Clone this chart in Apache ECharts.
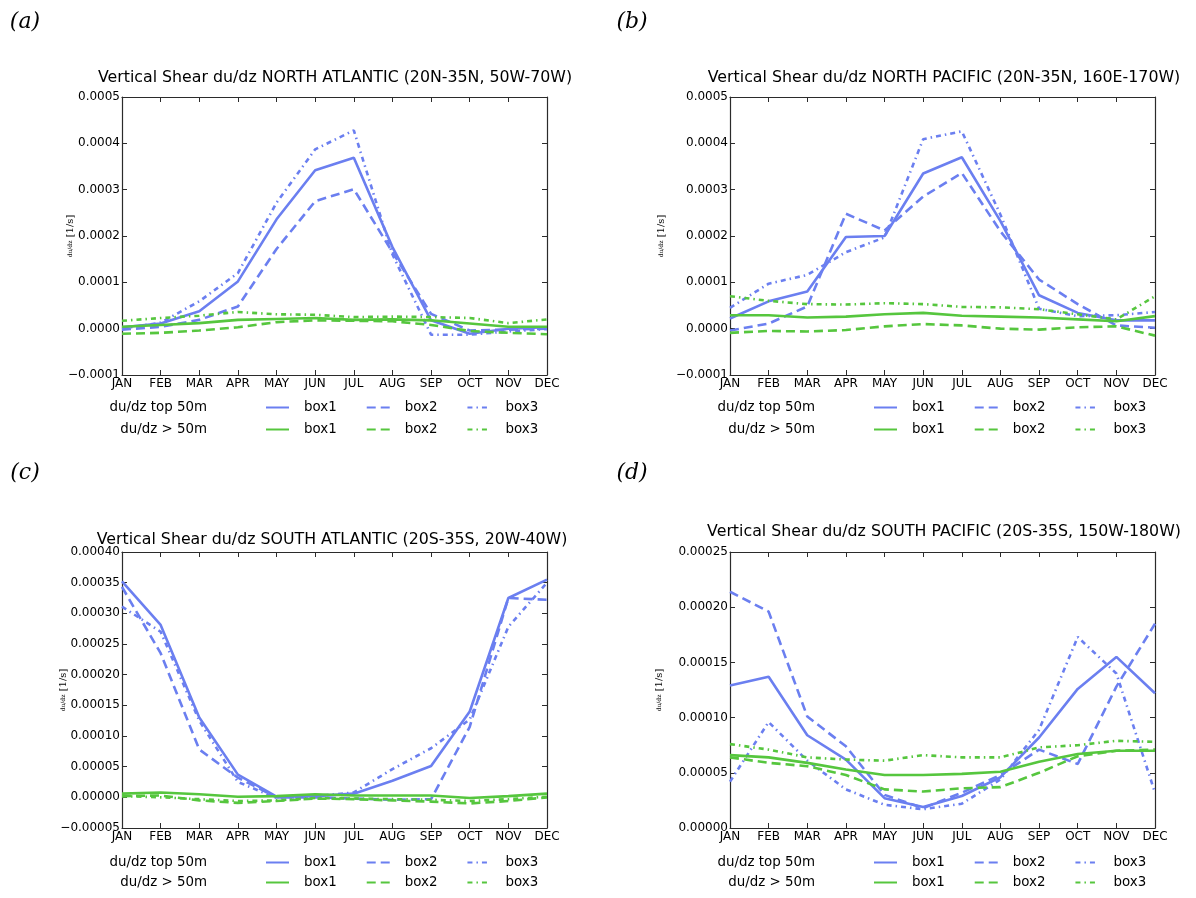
<!DOCTYPE html>
<html>
<head>
<meta charset="utf-8">
<script src="https://cdn.jsdelivr.net/npm/echarts@6/dist/echarts.min.js"></script>
<style>
  html, body { margin: 0; padding: 0; background: #fff; }
  #chart { width: 1196px; height: 898px; }
</style>
</head>
<body>
<div id="chart"></div>
<script>
// Monthly mean vertical shear du/dz in three boxes per basin,
// for the top 50 m and for depths below 50 m.
const months = ['JAN','FEB','MAR','APR','MAY','JUN','JUL','AUG','SEP','OCT','NOV','DEC'];

// (a) North Atlantic
const naTop1  = [0.000003, 0.000011, 0.0000375, 0.000102, 0.000236, 0.000342, 0.000369, 0.000176, 0.000018, -0.000011, 0.000000, 0.000003];
const naTop2  = [-0.000002, 0.000004, 0.000019, 0.000048, 0.000172, 0.000275, 0.000301, 0.000165, 0.000032, -0.000004, -0.000002, 0.000000];
const naTop3  = [0.000000, 0.000013, 0.000059, 0.000120, 0.000272, 0.000387, 0.000428, 0.000160, -0.000013, -0.000013, -0.000006, -0.000001];
const naDeep1 = [0.000004, 0.000008, 0.000012, 0.000019, 0.000021, 0.000023, 0.000019, 0.000020, 0.000018, 0.000011, 0.000004, 0.000004];
const naDeep2 = [-0.000011, -0.000009, -0.000004, 0.000003, 0.000014, 0.000018, 0.000017, 0.000016, 0.000008, -0.000005, -0.000009, -0.000012];
const naDeep3 = [0.000017, 0.000023, 0.000028, 0.000036, 0.000031, 0.000030, 0.000025, 0.000026, 0.000025, 0.000023, 0.000012, 0.000020];

// (b) North Pacific
const npTop1  = [0.000022, 0.000059, 0.000080, 0.000198, 0.000200, 0.000335, 0.000370, 0.000232, 0.000072, 0.000034, 0.000018, 0.000018];
const npTop2  = [-0.000004, 0.000011, 0.000048, 0.000248, 0.000212, 0.000285, 0.000336, 0.000210, 0.000106, 0.000053, 0.000007, 0.000002];
const npTop3  = [0.000045, 0.000097, 0.000116, 0.000165, 0.000197, 0.000409, 0.000426, 0.000246, 0.000043, 0.000027, 0.000029, 0.000036];
const npDeep1 = [0.000029, 0.000029, 0.000024, 0.000026, 0.000031, 0.000034, 0.000028, 0.000026, 0.000024, 0.000020, 0.000016, 0.000027];
const npDeep2 = [-0.000009, -0.000005, -0.000006, -0.000003, 0.000005, 0.000010, 0.000007, 0.000000, -0.000002, 0.000003, 0.000005, -0.000015];
const npDeep3 = [0.000070, 0.000060, 0.000053, 0.000052, 0.000055, 0.000053, 0.000047, 0.000046, 0.000042, 0.000031, 0.000020, 0.000070];

// (c) South Atlantic
const saTop1  = [0.000352, 0.000281, 0.000130, 0.000037, 0.000001, 0.000002, 0.000006, 0.000027, 0.000051, 0.000140, 0.000325, 0.000355];
const saTop2  = [0.000343, 0.000235, 0.000078, 0.000032, 0.000000, 0.000000, -0.000002, -0.000004, -0.000003, 0.000115, 0.000325, 0.000322];
const saTop3  = [0.000311, 0.000270, 0.000125, 0.000025, -0.000001, 0.000002, 0.000008, 0.000046, 0.000080, 0.000127, 0.000278, 0.000350];
const saDeep1 = [0.000006, 0.000008, 0.000005, 0.000001, 0.000002, 0.000005, 0.000003, 0.000003, 0.000003, -0.000001, 0.000002, 0.000006];
const saDeep2 = [0.000002, 0.000003, -0.000005, -0.000009, -0.000006, -0.000002, -0.000003, -0.000005, -0.000007, -0.000010, -0.000006, 0.000000];
const saDeep3 = [0.000002, 0.000000, -0.000003, -0.000006, -0.000005, -0.000001, -0.000002, -0.000003, -0.000004, -0.000006, -0.000003, 0.000001];

// (d) South Pacific
const spTop1  = [0.000129, 0.000137, 0.000084, 0.000062, 0.000027, 0.000019, 0.000029, 0.000046, 0.000082, 0.000126, 0.000155, 0.000122];
const spTop2  = [0.000214, 0.000196, 0.000101, 0.000074, 0.000030, 0.000018, 0.000032, 0.000048, 0.000071, 0.000058, 0.000128, 0.000185];
const spTop3  = [0.000042, 0.000096, 0.000061, 0.000035, 0.000021, 0.000017, 0.000022, 0.000044, 0.000089, 0.000173, 0.000140, 0.000032];
const spDeep1 = [0.000066, 0.000064, 0.000059, 0.000053, 0.000048, 0.000048, 0.000049, 0.000051, 0.000060, 0.000067, 0.000070, 0.000070];
const spDeep2 = [0.000064, 0.000059, 0.000056, 0.000048, 0.000035, 0.000033, 0.000036, 0.000037, 0.000050, 0.000065, 0.000070, 0.000071];
const spDeep3 = [0.000076, 0.000071, 0.000064, 0.000062, 0.000061, 0.000066, 0.000064, 0.000064, 0.000073, 0.000075, 0.000079, 0.000078];

const titles = [
  'Vertical Shear du/dz NORTH ATLANTIC (20N-35N, 50W-70W)',
  'Vertical Shear du/dz NORTH PACIFIC (20N-35N, 160E-170W)',
  'Vertical Shear du/dz SOUTH ATLANTIC (20S-35S, 20W-40W)',
  'Vertical Shear du/dz SOUTH PACIFIC (20S-35S, 150W-180W)'
];
const panelTags = ['(a)', '(b)', '(c)', '(d)'];
const boxNames = ['box1', 'box2', 'box3'];
const rowLabels = ['du/dz top 50m', 'du/dz > 50m'];

const yRanges = [
  { min: -0.0001,  max: 0.0005,  interval: 0.0001,  digits: 4 },
  { min: -0.0001,  max: 0.0005,  interval: 0.0001,  digits: 4 },
  { min: -0.00005, max: 0.0004,  interval: 0.00005, digits: 5 },
  { min: 0,        max: 0.00025, interval: 0.00005, digits: 5 }
];

const panelData = [
  [[naTop1, naTop2, naTop3], [naDeep1, naDeep2, naDeep3]],
  [[npTop1, npTop2, npTop3], [npDeep1, npDeep2, npDeep3]],
  [[saTop1, saTop2, saTop3], [saDeep1, saDeep2, saDeep3]],
  [[spTop1, spTop2, spTop3], [spDeep1, spDeep2, spDeep3]]
];

// layout
const FONT = 'DejaVu Sans';
const AXIS_COLOR = '#2b2b2b';
const BLUE = '#6b7ff0';
const GREEN = '#56c63e';
const lineColors = [BLUE, GREEN];
const dashPatterns = ['solid', [9, 5], [5, 4, 1.5, 4]];

const grids = [
  { left: 122, top: 97,  width: 425, height: 278 },
  { left: 730, top: 97,  width: 425, height: 278 },
  { left: 122, top: 552, width: 425, height: 276 },
  { left: 730, top: 552, width: 425, height: 276 }
];
const titlePos = [[335, 78], [944, 78], [332, 540], [944, 532]];
const tagPos = [[25, 22], [632, 22], [25, 473], [632, 473]];
const nameGaps = [46, 63, 53, 65];
const legendRows = [[407, 429], [407, 429], [862, 882], [862, 882]];

function fmtTick(v, digits) {
  if (Math.abs(v) < 1e-12) v = 0;
  return (v < 0 ? '\u2212' : '') + Math.abs(v).toFixed(digits);
}

const xAxes = [], yAxes = [], series = [], legends = [], graphics = [];

grids.forEach((g, k) => {
  const tickStyle = { show: true, inside: true, length: 5, alignWithLabel: true, interval: 0,
                      lineStyle: { color: AXIS_COLOR, width: 1 } };
  const lineStyle = { show: true, onZero: false, lineStyle: { color: AXIS_COLOR, width: 1.2 } };
  xAxes.push({
    type: 'category', gridIndex: k, data: months, boundaryGap: false, position: 'bottom',
    axisLine: lineStyle, axisTick: tickStyle, splitLine: { show: false },
    axisLabel: { interval: 0, margin: 3, color: '#000', fontSize: 12, fontFamily: FONT }
  });
  xAxes.push({
    type: 'category', gridIndex: k, data: months, boundaryGap: false, position: 'top',
    axisLine: lineStyle, axisTick: tickStyle, splitLine: { show: false },
    axisLabel: { show: false }
  });
  const r = yRanges[k];
  yAxes.push({
    type: 'value', gridIndex: k, position: 'left', min: r.min, max: r.max, interval: r.interval,
    axisLine: lineStyle, axisTick: { show: true, inside: true, length: 5, lineStyle: { color: AXIS_COLOR } },
    splitLine: { show: false },
    axisLabel: { margin: 2, color: '#000', fontSize: 12, fontFamily: FONT,
                 formatter: v => fmtTick(v, r.digits) },
    name: '{f|du/dz} {u|[1/s]}', nameLocation: 'middle', nameRotate: 90, nameGap: nameGaps[k],
    nameMoveOverlap: false,
    nameTextStyle: { color: '#000', rich: {
      f: { fontSize: 6, fontFamily: 'DejaVu Serif', color: '#000' },
      u: { fontSize: 10, fontFamily: 'DejaVu Serif', color: '#000' } } }
  });
  yAxes.push({
    type: 'value', gridIndex: k, position: 'right', min: r.min, max: r.max, interval: r.interval,
    axisLine: lineStyle, axisTick: { show: true, inside: true, length: 5, lineStyle: { color: AXIS_COLOR } },
    splitLine: { show: false }, axisLabel: { show: false }
  });

  // top-50m lines first (blue), then deeper lines (green)
  panelData[k].forEach((group, gi) => {
    const names = [];
    group.forEach((vals, bi) => {
      const name = 'p' + k + ' r' + gi + ' ' + boxNames[bi];
      names.push(name);
      series.push({
        type: 'line', name: name, data: vals,
        xAxisIndex: 2 * k, yAxisIndex: 2 * k,
        symbol: 'none', showSymbol: false, smooth: false, animation: false,
        lineStyle: { color: lineColors[gi], width: 2.6, type: dashPatterns[bi] },
        itemStyle: { color: lineColors[gi] },
        z: 2 + gi
      });
    });
    const rowY = legendRows[k][gi];
    legends.push({
      data: names, left: g.left + 143, top: rowY - 6, orient: 'horizontal',
      itemWidth: 23, itemHeight: 12, itemGap: 29, padding: 0, selectedMode: false,
      itemStyle: { opacity: 0, borderWidth: 0 },
      formatter: n => n.split(' ').pop(),
      textStyle: { color: '#000', fontSize: 13.4, fontFamily: FONT, padding: [0, 0, 0, 10] }
    });
    graphics.push({
      type: 'text', x: g.left + 85, y: rowY + 1,
      style: { text: rowLabels[gi], align: 'right', verticalAlign: 'middle',
               textAlign: 'right', textVerticalAlign: 'middle',
               fontSize: 13.4, fontFamily: FONT, fill: '#000' }
    });
  });

  graphics.push({
    type: 'text', x: titlePos[k][0], y: titlePos[k][1],
    style: { text: titles[k], align: 'center', verticalAlign: 'middle',
             textAlign: 'center', textVerticalAlign: 'middle',
             fontSize: 15.8, fontFamily: FONT, fill: '#000' }
  });
  graphics.push({
    type: 'text', x: tagPos[k][0], y: tagPos[k][1],
    style: { text: panelTags[k], align: 'center', verticalAlign: 'middle',
             textAlign: 'center', textVerticalAlign: 'middle',
             fontSize: 22, fontStyle: 'italic', fontFamily: 'DejaVu Serif', fill: '#000' }
  });
});

const chart = echarts.init(document.getElementById('chart'), null, { renderer: 'canvas' });
chart.setOption({
  backgroundColor: '#fff',
  animation: false,
  grid: grids.map(g => Object.assign({ containLabel: false }, g)),
  xAxis: xAxes,
  yAxis: yAxes,
  legend: legends,
  series: series,
  graphic: graphics
});
</script>
</body>
</html>
